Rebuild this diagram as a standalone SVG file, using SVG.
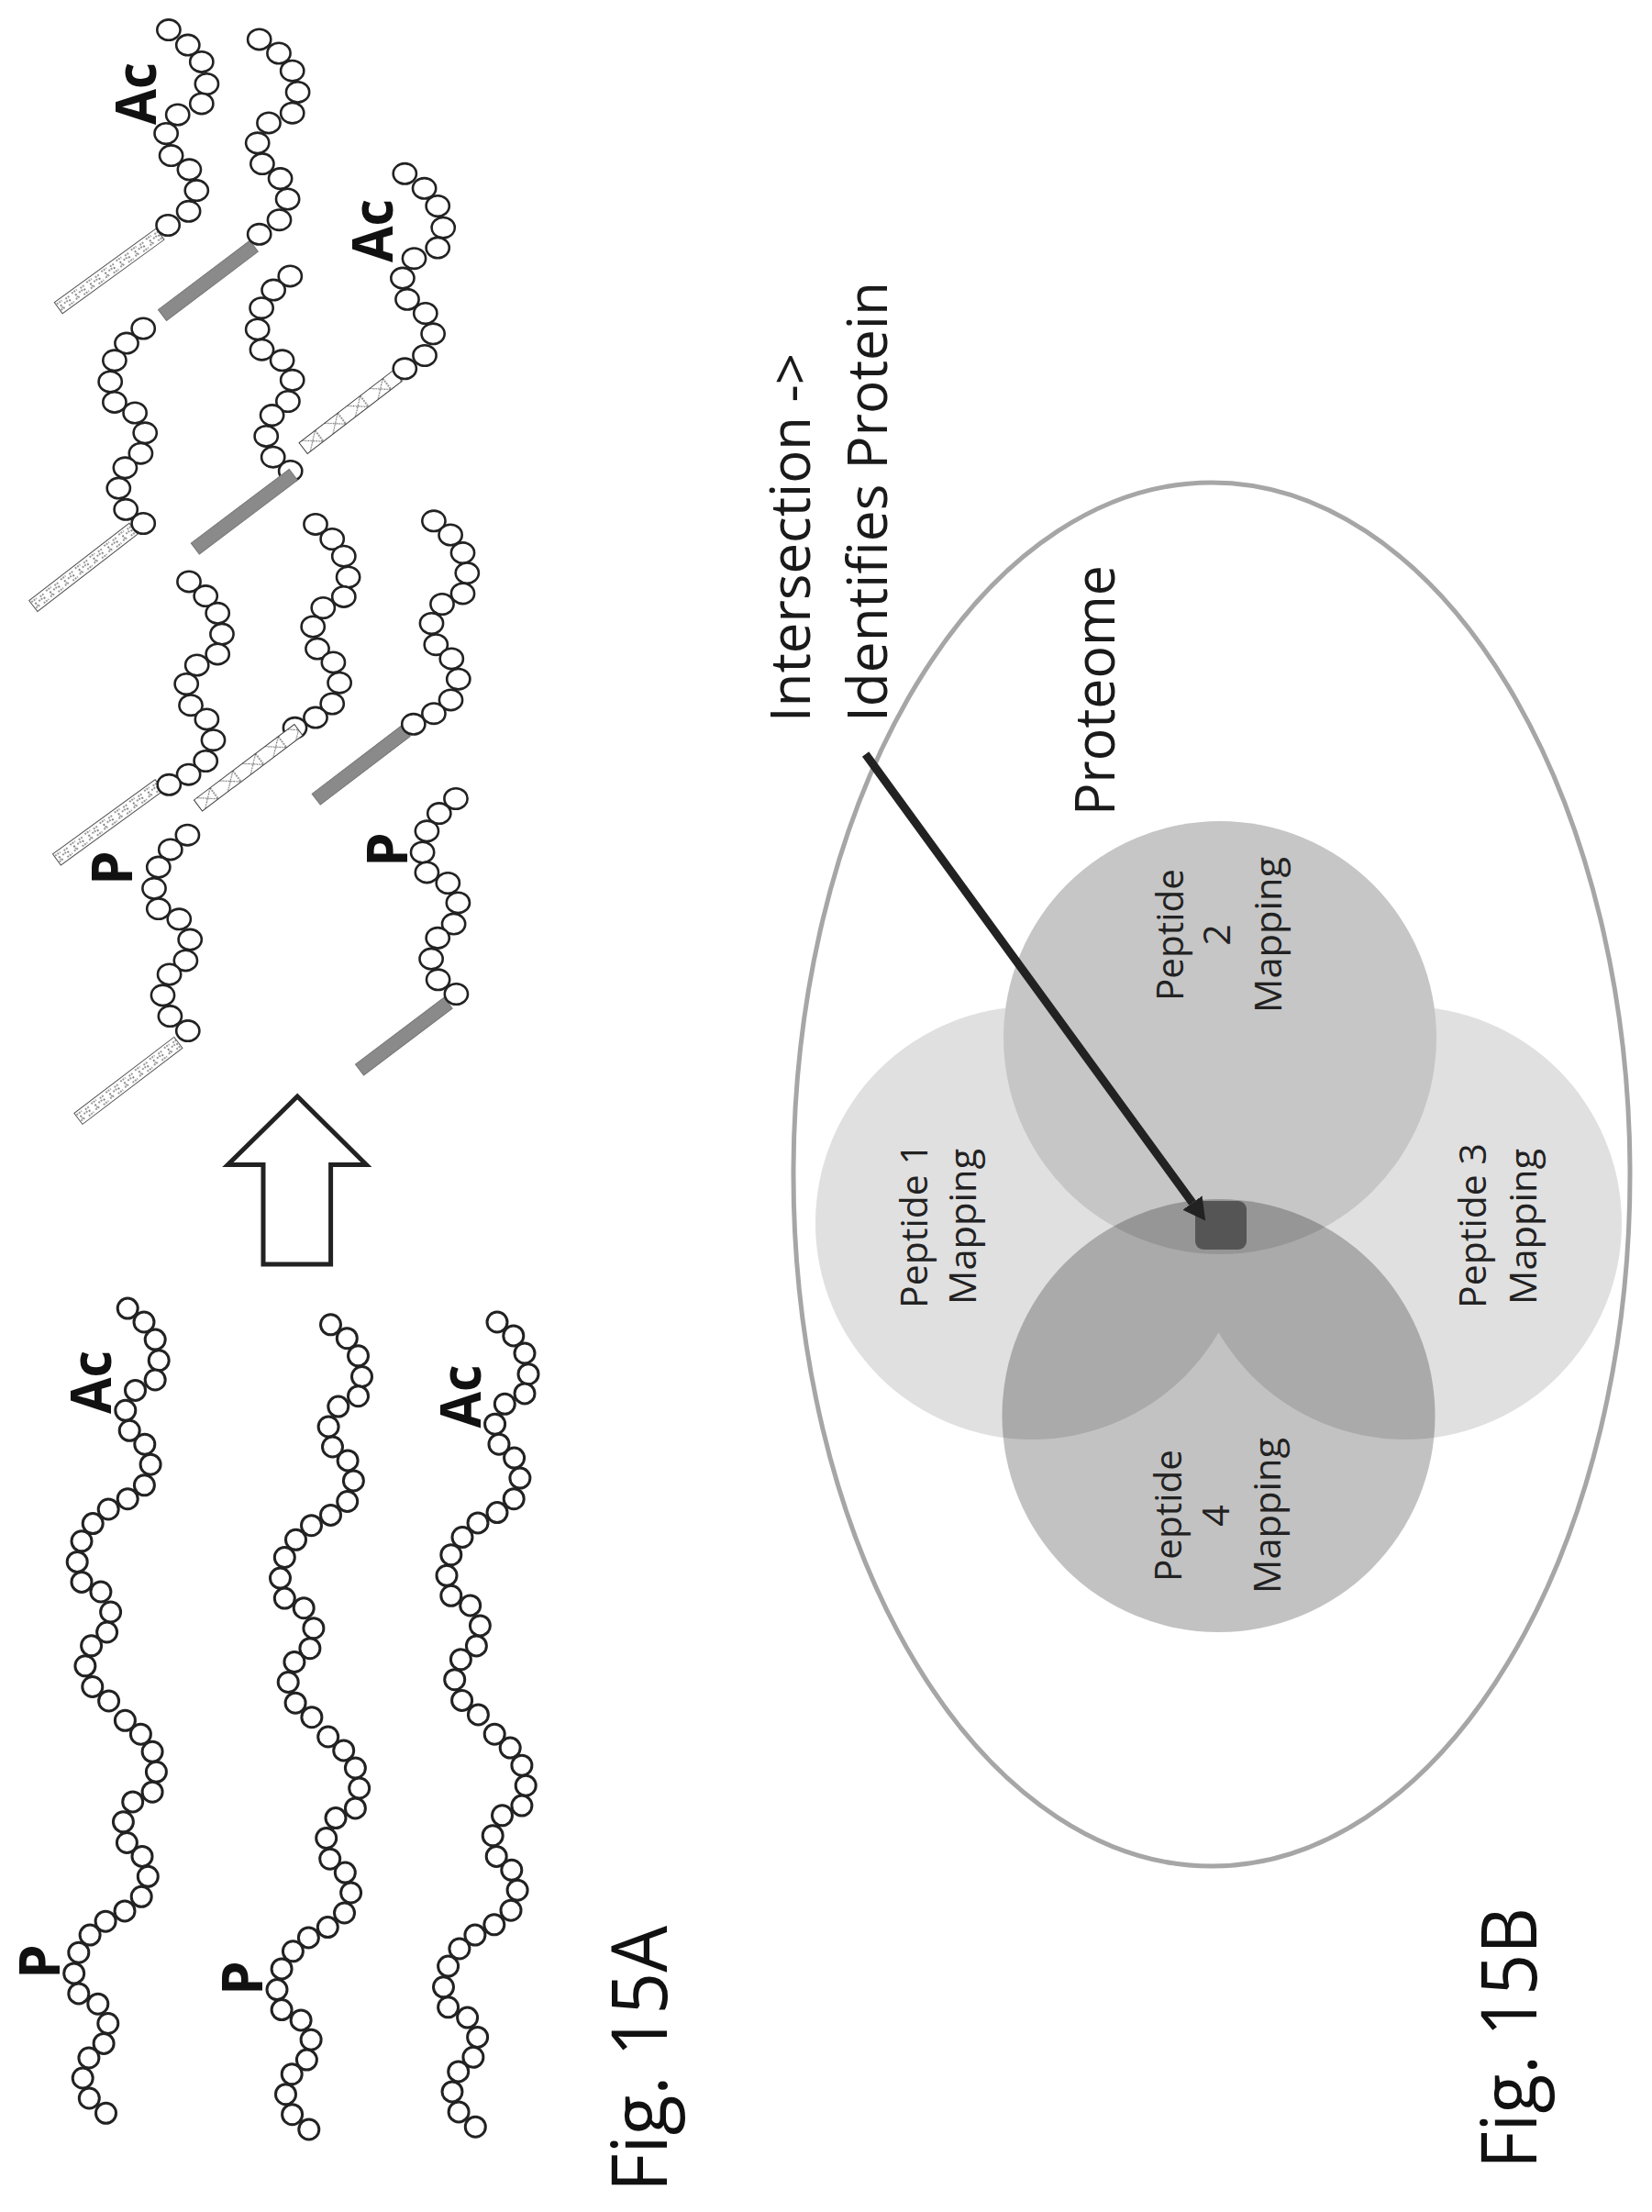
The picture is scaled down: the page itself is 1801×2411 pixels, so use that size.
<svg xmlns="http://www.w3.org/2000/svg" width="1801" height="2411" viewBox="0 0 1801 2411">
<style>
text{font-family:"Open Sans","Noto Sans","DejaVu Sans",sans-serif;fill:#1a1a1a}
.t{font-size:61px}
.m{font-size:41px;fill:#222;text-anchor:middle}
.f{font-size:84px;fill:#111}
.b{font-size:60px;font-weight:700;fill:#111}
.c ellipse{fill:#fff;stroke:#222;stroke-width:2.6;rx:12.6px;ry:11.2px}
.ch circle{fill:#fff;stroke:#222;stroke-width:3;r:11px}
.ln{fill:url(#brick);stroke:#555;stroke-width:1}
.dk{fill:#8a8a8a;stroke:#777;stroke-width:1}
.xx{fill:url(#cross);stroke:#444;stroke-width:1}
</style>
<defs>
<pattern id="brick" patternUnits="userSpaceOnUse" width="20" height="15" y="-7.5">
<rect width="20" height="15" fill="#fff"/>
<path d="M1 3h7M12 4h6M4 6v4M8 7h5M15 7v3M1 11h6M11 12h7" stroke="#333" stroke-width="1.2" stroke-dasharray="2 1" fill="none"/>
</pattern>
<pattern id="cross" patternUnits="userSpaceOnUse" width="31" height="15" y="-7.5">
<rect width="31" height="15" fill="#fff"/>
<path d="M4 0L22 15M22 0L4 15M22 0V15" stroke="#333" stroke-width="1" stroke-dasharray="2 1" fill="none"/>
</pattern>
<marker id="head" markerUnits="userSpaceOnUse" markerWidth="24" markerHeight="26" viewBox="0 0 24 26" refX="0" refY="13" orient="auto">
<path d="M0 0L24 13L0 26Z" fill="#222"/>
</marker>
<g id="chain" class="ch">
<circle cx="139.2" cy="1426.1"/><circle cx="157" cy="1441"/><circle cx="169.2" cy="1460.1"/><circle cx="173.2" cy="1482.8"/><circle cx="169.2" cy="1504"/><circle cx="147.5" cy="1515.4"/><circle cx="136.8" cy="1537.3"/><circle cx="141.2" cy="1559.3"/><circle cx="157.8" cy="1574.2"/><circle cx="164.1" cy="1596.2"/><circle cx="157.4" cy="1618.8"/><circle cx="139.2" cy="1633.7"/><circle cx="118.2" cy="1645"/><circle cx="101.2" cy="1660.6"/><circle cx="89" cy="1679.8"/><circle cx="84.2" cy="1702.4"/><circle cx="89" cy="1724.4"/><circle cx="109.9" cy="1735"/><circle cx="120.6" cy="1757"/><circle cx="116.6" cy="1779"/><circle cx="99.6" cy="1793.8"/><circle cx="92.9" cy="1815.8"/><circle cx="100.8" cy="1838.5"/><circle cx="118.6" cy="1854"/><circle cx="136.4" cy="1875.3"/><circle cx="153.4" cy="1890.2"/><circle cx="166.1" cy="1909.3"/><circle cx="170.4" cy="1931.3"/><circle cx="166.1" cy="1953.2"/><circle cx="144.7" cy="1963.9"/><circle cx="134.4" cy="1985.8"/><circle cx="138.4" cy="2008.5"/><circle cx="155" cy="2023.4"/><circle cx="161.3" cy="2045.3"/><circle cx="154.2" cy="2067.3"/><circle cx="136" cy="2082.9"/><circle cx="115.1" cy="2094.2"/><circle cx="98.1" cy="2109.1"/><circle cx="85.8" cy="2128.2"/><circle cx="80.7" cy="2150.9"/><circle cx="85.8" cy="2172.9"/><circle cx="106.8" cy="2184.2"/><circle cx="117.8" cy="2205.5"/><circle cx="113.1" cy="2227.4"/><circle cx="96.9" cy="2243"/><circle cx="90.2" cy="2265"/><circle cx="97.3" cy="2287"/><circle cx="115.5" cy="2303.3"/>
</g>
</defs>
<rect width="1801" height="2411" fill="#fff"/>

<g id="peptide-u1" class="c">
<rect class="ln" transform="translate(63.7,335.7) rotate(-36)" x="0" y="-7.5" width="137" height="15"/>
<ellipse cx="183.9" cy="32.6"/><ellipse cx="204.8" cy="49.1"/><ellipse cx="219.8" cy="67.4"/><ellipse cx="225.4" cy="91.5"/><ellipse cx="219.8" cy="112.9"/><ellipse cx="193.7" cy="125"/><ellipse cx="181.1" cy="145.5"/><ellipse cx="186.6" cy="169.6"/><ellipse cx="206.4" cy="184.8"/><ellipse cx="214.3" cy="207.6"/><ellipse cx="205.6" cy="230.3"/><ellipse cx="183.1" cy="245.5"/>
<text class="b" transform="translate(170,136) rotate(-90)" textLength="68" lengthAdjust="spacingAndGlyphs">Ac</text>
</g>
<g id="peptide-u2" class="c">
<rect class="dk" transform="translate(177,343.5) rotate(-37)" x="0" y="-7.5" width="125" height="15"/>
<ellipse cx="282.7" cy="42.9"/><ellipse cx="304" cy="58"/><ellipse cx="318.7" cy="77.2"/><ellipse cx="324.6" cy="100.4"/><ellipse cx="318.7" cy="123.2"/><ellipse cx="293" cy="133.9"/><ellipse cx="280.7" cy="155.8"/><ellipse cx="285.9" cy="178.6"/><ellipse cx="305.6" cy="194.6"/><ellipse cx="313.6" cy="217"/><ellipse cx="304.5" cy="239.7"/><ellipse cx="282.7" cy="255.3"/>
</g>
<g id="peptide-u3" class="c">
<rect class="xx" transform="translate(330.6,488.5) rotate(-37.5)" x="0" y="-7.5" width="130" height="15"/>
<ellipse cx="441.3" cy="189.3"/><ellipse cx="462.6" cy="205.3"/><ellipse cx="477.2" cy="224.5"/><ellipse cx="483.2" cy="248.2"/><ellipse cx="477.2" cy="270.1"/><ellipse cx="451.5" cy="281.7"/><ellipse cx="438.9" cy="303.1"/><ellipse cx="444" cy="326.3"/><ellipse cx="463.8" cy="341.5"/><ellipse cx="472.1" cy="363.8"/><ellipse cx="463" cy="387.5"/><ellipse cx="441.3" cy="401.8"/>
<text class="b" transform="translate(428,286) rotate(-90)" textLength="69" lengthAdjust="spacingAndGlyphs">Ac</text>
</g>
<g id="peptide-u4" class="c">
<rect class="ln" transform="translate(36.3,660.5) rotate(-37.7)" x="0" y="-7.5" width="138" height="15"/>
<ellipse cx="156.2" cy="358"/><ellipse cx="138" cy="374.1"/><ellipse cx="124.9" cy="392.8"/><ellipse cx="120.2" cy="416"/><ellipse cx="124.9" cy="438.4"/><ellipse cx="147.1" cy="450"/><ellipse cx="158.2" cy="471.8"/><ellipse cx="153.4" cy="494.2"/><ellipse cx="136.4" cy="509.8"/><ellipse cx="129.3" cy="532.1"/><ellipse cx="137.2" cy="555.3"/><ellipse cx="156.2" cy="570.5"/>
</g>
<g id="peptide-u5" class="c">
<ellipse cx="316.3" cy="300.9"/><ellipse cx="298.1" cy="316.1"/><ellipse cx="285.1" cy="335.7"/><ellipse cx="280.7" cy="358.9"/><ellipse cx="285.5" cy="381.2"/><ellipse cx="307.6" cy="392.8"/><ellipse cx="318.7" cy="414.3"/><ellipse cx="313.9" cy="437.5"/><ellipse cx="296.6" cy="452.6"/><ellipse cx="290.2" cy="475.4"/><ellipse cx="297.7" cy="498.2"/><ellipse cx="316.7" cy="513.4"/>
<rect class="dk" transform="translate(212.8,598) rotate(-37)" x="0" y="-7.5" width="134" height="15"/>
</g>
<g id="peptide-l1" class="c">
<rect class="ln" transform="translate(61.9,937) rotate(-36)" x="0" y="-7.5" width="138" height="15"/>
<ellipse cx="206" cy="633.9"/><ellipse cx="224.2" cy="649.6"/><ellipse cx="237.2" cy="668.3"/><ellipse cx="242" cy="691.1"/><ellipse cx="237.2" cy="712.9"/><ellipse cx="214.7" cy="725"/><ellipse cx="203.2" cy="745.5"/><ellipse cx="208" cy="768.7"/><ellipse cx="225.4" cy="783.9"/><ellipse cx="232.5" cy="806.7"/><ellipse cx="224.2" cy="829.5"/><ellipse cx="205.6" cy="844.2"/><ellipse cx="184.3" cy="855.3"/>
</g>
<g id="peptide-l2" class="c">
<ellipse cx="344" cy="571.4"/><ellipse cx="362.2" cy="587.5"/><ellipse cx="374.8" cy="606.2"/><ellipse cx="379.6" cy="629"/><ellipse cx="374.8" cy="650.4"/><ellipse cx="352.3" cy="662.5"/><ellipse cx="341.2" cy="683"/><ellipse cx="346" cy="707.1"/><ellipse cx="363.4" cy="721.9"/><ellipse cx="370.1" cy="744.2"/><ellipse cx="362.2" cy="767"/><ellipse cx="344" cy="782.1"/><ellipse cx="321.5" cy="793.3"/>
<rect class="xx" transform="translate(216,878) rotate(-37)" x="0" y="-7.5" width="137" height="15"/>
</g>
<g id="peptide-l3" class="c">
<rect class="dk" transform="translate(344.7,871.2) rotate(-37.3)" x="0" y="-7.5" width="123" height="15"/>
<ellipse cx="472.9" cy="567.8"/><ellipse cx="491.1" cy="583"/><ellipse cx="504.5" cy="602.6"/><ellipse cx="509.3" cy="624.6"/><ellipse cx="504.5" cy="646.9"/><ellipse cx="482" cy="658.5"/><ellipse cx="470.5" cy="679.5"/><ellipse cx="475.3" cy="702.7"/><ellipse cx="492.3" cy="717.9"/><ellipse cx="499.8" cy="740.2"/><ellipse cx="491.5" cy="762.9"/><ellipse cx="472.9" cy="777.7"/><ellipse cx="450.8" cy="789.3"/>
</g>
<g id="peptide-l4" class="c">
<rect class="ln" transform="translate(85.4,1219.4) rotate(-37.3)" x="0" y="-7.5" width="137" height="15"/>
<ellipse cx="204.4" cy="910.2"/><ellipse cx="185.8" cy="925.9"/><ellipse cx="172.8" cy="945.1"/><ellipse cx="168" cy="968.3"/><ellipse cx="172.8" cy="990.6"/><ellipse cx="195.3" cy="1001.8"/><ellipse cx="207.2" cy="1024.1"/><ellipse cx="202.4" cy="1046.9"/><ellipse cx="184.6" cy="1062"/><ellipse cx="177.5" cy="1084.8"/><ellipse cx="185.4" cy="1107.6"/><ellipse cx="204.8" cy="1123.6"/>
<text class="b" transform="translate(143.5,965) rotate(-90)">P</text>
</g>
<g id="peptide-l5" class="c">
<rect class="dk" transform="translate(392,1166) rotate(-37)" x="0" y="-7.5" width="121" height="15"/>
<ellipse cx="497" cy="870.5"/><ellipse cx="478.8" cy="886.6"/><ellipse cx="465.4" cy="905.8"/><ellipse cx="460.6" cy="929"/><ellipse cx="465.4" cy="950.9"/><ellipse cx="488.3" cy="962.5"/><ellipse cx="499.4" cy="983.9"/><ellipse cx="494.6" cy="1007.1"/><ellipse cx="477.2" cy="1022.3"/><ellipse cx="470.1" cy="1045.1"/><ellipse cx="477.6" cy="1067.8"/><ellipse cx="497.4" cy="1083.5"/>
<text class="b" transform="translate(443.6,945) rotate(-90)">P</text>
</g>

<g id="block-arrow">
<path d="M324.2 1195L399.4 1269.6H360.6V1378H287V1269.6H248.3Z" fill="#fff" stroke="#222" stroke-width="5"/>
</g>

<g id="long-a">
<use href="#chain"/>
<text class="b" transform="translate(120.6,1541) rotate(-90)" textLength="69" lengthAdjust="spacingAndGlyphs">Ac</text>
<text class="b" transform="translate(64.5,2157) rotate(-90)">P</text>
</g>
<g id="long-b">
<use href="#chain" x="221.3" y="17.7"/>
<text class="b" transform="translate(286,2175) rotate(-90)">P</text>
</g>
<g id="long-c">
<use href="#chain" x="402.8" y="14.9"/>
<text class="b" transform="translate(524,1556.5) rotate(-90)" textLength="69" lengthAdjust="spacingAndGlyphs">Ac</text>
</g>

<text id="fig-a" class="f" transform="translate(726.7,2389) rotate(-90)" textLength="290" lengthAdjust="spacingAndGlyphs">Fig. 15A</text>

<g id="proteome">
<ellipse cx="1321" cy="1280" rx="456" ry="754" fill="#fff" stroke="#a6a6a6" stroke-width="5"/>
<text class="t" transform="translate(1215,889) rotate(-90)" textLength="273" lengthAdjust="spacingAndGlyphs">Proteome</text>
</g>
<g id="peptide-1-mapping">
<circle cx="1125" cy="1333" r="236" fill="#e0e0e0"/>
</g>
<g id="peptide-3-mapping">
<circle cx="1532" cy="1333" r="236" fill="#e0e0e0"/>
</g>
<g id="peptide-2-mapping">
<circle cx="1330" cy="1131" r="236" fill="#c6c6c6"/>
</g>
<g id="peptide-4-mapping">
<circle cx="1328.5" cy="1543" r="236" fill="#000" opacity=".24"/>
</g>
<g id="intersection">
<rect x="1303" y="1309" width="56" height="53" rx="9" fill="#555"/>
</g>
<g id="labels">
<text class="m" transform="translate(1010.7,1336) rotate(-90)" textLength="180" lengthAdjust="spacingAndGlyphs">Peptide 1</text>
<text class="m" transform="translate(1063.5,1337) rotate(-90)" textLength="170" lengthAdjust="spacingAndGlyphs">Mapping</text>
<text class="m" transform="translate(1620,1336) rotate(-90)" textLength="180" lengthAdjust="spacingAndGlyphs">Peptide 3</text>
<text class="m" transform="translate(1675,1337) rotate(-90)" textLength="170" lengthAdjust="spacingAndGlyphs">Mapping</text>
<text class="m" transform="translate(1290,1019) rotate(-90)" textLength="144" lengthAdjust="spacingAndGlyphs">Peptide</text>
<text class="m" transform="translate(1341,1019) rotate(-90)">2</text>
<text class="m" transform="translate(1397,1019) rotate(-90)" textLength="170" lengthAdjust="spacingAndGlyphs">Mapping</text>
<text class="m" transform="translate(1288,1652) rotate(-90)" textLength="144" lengthAdjust="spacingAndGlyphs">Peptide</text>
<text class="m" transform="translate(1340,1652) rotate(-90)">4</text>
<text class="m" transform="translate(1396,1652) rotate(-90)" textLength="170" lengthAdjust="spacingAndGlyphs">Mapping</text>
</g>
<g id="callout">
<text class="t" transform="translate(883,787) rotate(-90)" textLength="402" lengthAdjust="spacingAndGlyphs">Intersection -&gt;</text>
<text class="t" transform="translate(967,787) rotate(-90)" textLength="480" lengthAdjust="spacingAndGlyphs">Identifies Protein</text>
</g>
<g id="connectors">
<line x1="943.6" y1="822" x2="1300" y2="1311" stroke="#222" stroke-width="9" marker-end="url(#head)"/>
</g>
<text id="fig-b" class="f" transform="translate(1675,2364) rotate(-90)" textLength="285" lengthAdjust="spacingAndGlyphs">Fig. 15B</text>
</svg>
